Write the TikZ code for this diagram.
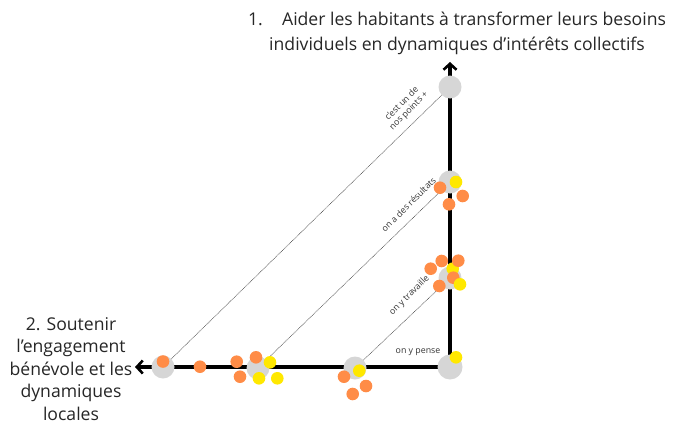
\documentclass[tikz,border=0pt]{standalone}
\usepackage{fontspec}
\setmainfont{Open Sans}
\usetikzlibrary{arrows.meta}
\definecolor{dotgray}{HTML}{D6D6D6}
\definecolor{dotorange}{HTML}{FF8C47}
\definecolor{dotyellow}{HTML}{FFE800}
\definecolor{dashgray}{HTML}{555555}
\begin{document}
\begin{tikzpicture}[x=1pt,y=-1pt,
  graydot/.style={circle,fill=dotgray,draw=none,minimum size=23pt,inner sep=0pt},
  cornerdot/.style={circle,fill=dotgray,draw=none,minimum size=25pt,inner sep=0pt},
  odot/.style={circle,fill=dotorange,draw=none,minimum size=12.6pt,inner sep=0pt},
  ydot/.style={circle,fill=dotyellow,draw=none,minimum size=12.6pt,inner sep=0pt},
  axis/.style={line width=3.4pt,-{Straight Barb[length=6pt,width=13pt,line width=2.6pt]}},
  guide/.style={dashgray,line width=0.6pt,dash pattern=on 0.9pt off 0.7pt},
  lbl/.style={font=\fontsize{8.8}{9.8}\selectfont,text=black!80,inner sep=0pt,align=center},
  title/.style={font=\fontsize{17.6}{25}\selectfont,text=black!85,inner sep=0pt,align=center}]
\useasboundingbox (0,0) rectangle (674,428);
% coordinates
\coordinate (corner) at (450,367);
\coordinate (topend) at (450,62);
\coordinate (leftend) at (135,367);
\coordinate (pG1) at (450,87);
\coordinate (pG2) at (450,182);
\coordinate (pG3) at (450,278);
\coordinate (pH1) at (163,367);
\coordinate (pH2) at (258,368);
\coordinate (pH3) at (355,368);
% dotted guides
\draw[guide] (pH1) -- (pG1);
\draw[guide] (pH2) -- (pG2);
\draw[guide] (pH3) -- (pG3);
% axes
\draw[axis] (corner) -- (topend);
\draw[axis] (corner) -- (leftend);
% gray points
\node[graydot] (G1) at (pG1) {};
\node[graydot] (G2) at (pG2) {};
\node[graydot] (G3) at (pG3) {};
\node[cornerdot] (G0) at (corner) {};
\node[graydot] (H1) at (pH1) {};
\node[graydot] (H2) at (pH2) {};
\node[graydot] (H3) at (pH3) {};
% horizontal axis dots
\node[odot] (o1) at (163,361.5) {};
\node[odot] (o2) at (200,366.7) {};
\node[odot] (o3) at (236.7,361.7) {};
\node[odot] (o4) at (256,357.3) {};
\node[odot] (o5) at (240,376.7) {};
\node[ydot] (y1) at (270,362.3) {};
\node[ydot] (y2) at (259,378.3) {};
\node[ydot] (y3) at (277.3,378.3) {};
\node[odot] (o6) at (344,376.7) {};
\node[odot] (o7) at (366,386) {};
\node[odot] (o8) at (352.7,394) {};
\node[ydot] (y4) at (359.3,370.7) {};
% vertical axis dots
\node[odot] (o9) at (440,187.7) {};
\node[odot] (o10) at (462.7,196) {};
\node[odot] (o11) at (449,204.3) {};
\node[ydot] (y5) at (456,182) {};
\node[ydot] (y6) at (452.7,268.7) {};
\node[odot] (o12) at (430.7,268.7) {};
\node[odot] (o13) at (441.7,261) {};
\node[odot] (o14) at (458.3,260.7) {};
\node[odot] (o15) at (453.3,277.7) {};
\node[odot] (o16) at (439.3,286) {};
\node[ydot] (y7) at (460,284.3) {};
\node[ydot] (y8) at (456,357.3) {};
% labels
\node[lbl,rotate=45] (l1) at (405.5,107.5) {c’est un de\\nos points +};
\node[lbl,rotate=45] (l2) at (408.5,204.5) {on a des résultats};
\node[lbl,rotate=45] (l3) at (409.5,295.5) {on y travaille};
\node[lbl] (l4) at (418,352) {on y pense};
% titles
\node[title,anchor=north] (t1) at (457,12) {1.\hspace{1.1em}Aider les habitants à transformer leurs besoins\\individuels en dynamiques d’intérêts collectifs};
\node[font=\fontsize{17.6}{22.6}\selectfont,text=black!85,inner sep=0pt,align=center,anchor=north] (t2) at (71,317) {2. Soutenir\\l’engagement\\bénévole et les\\dynamiques\\locales};
\end{tikzpicture}
\end{document}
